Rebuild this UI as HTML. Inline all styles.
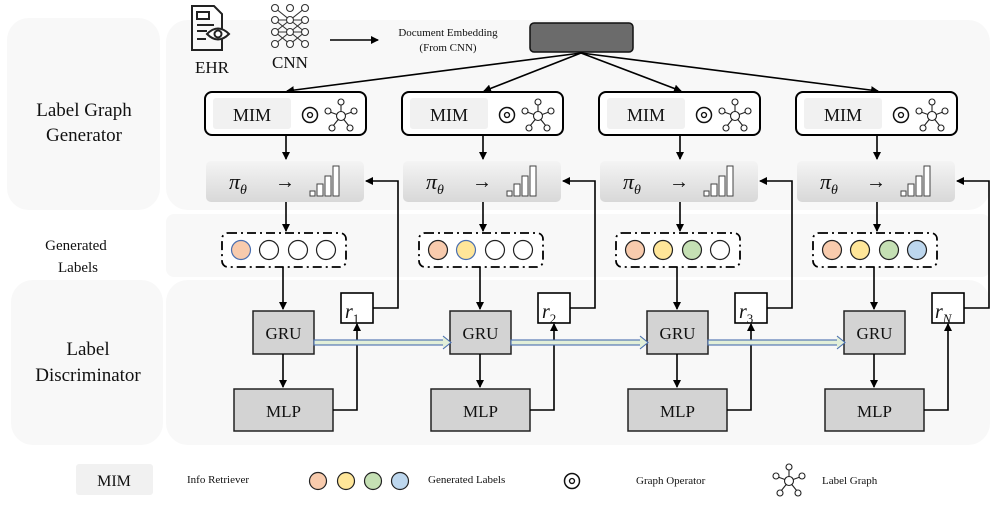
<!DOCTYPE html>
<html><head><meta charset="utf-8"><style>
html,body{margin:0;padding:0;background:#fff;}
svg{display:block;}
text{font-family:"Liberation Serif",serif;fill:#111;}
</style></head><body>
<svg width="997" height="506" viewBox="0 0 997 506" xmlns="http://www.w3.org/2000/svg">
<defs>
<marker id="ah" markerWidth="8" markerHeight="8" refX="7" refY="4" orient="auto" markerUnits="userSpaceOnUse">
<path d="M0,0 L8,4 L0,8 z" fill="#000"/></marker>
<linearGradient id="pg" x1="0" y1="0" x2="0" y2="1">
<stop offset="0" stop-color="#f4f4f4"/><stop offset="1" stop-color="#d8d8d8"/></linearGradient>
<g id="graph" fill="#fff" stroke="#222" stroke-width="1.1">
<line x1="0" y1="0" x2="0" y2="-12"/><line x1="0" y1="0" x2="-11" y2="-4"/><line x1="0" y1="0" x2="11" y2="-4"/>
<line x1="0" y1="0" x2="-8" y2="10"/><line x1="0" y1="0" x2="8" y2="10"/>
<circle r="4.5"/><circle cy="-14" r="3"/><circle cx="-13" cy="-5" r="3"/><circle cx="13" cy="-5" r="3"/>
<circle cx="-9" cy="12" r="3"/><circle cx="9" cy="12" r="3"/></g>
<g id="op" fill="#fff" stroke="#111" stroke-width="1.5"><circle r="7.5"/><circle r="2.5" stroke-width="1.3"/></g>
<g id="col">
<rect x="205" y="92" width="161" height="43" rx="7" fill="#fff" stroke="#000" stroke-width="2"/>
<rect x="213" y="98" width="78" height="31" rx="3" fill="#f1f1f1"/>
<text x="252" y="121" font-size="18" text-anchor="middle">MIM</text>
<use href="#op" x="310" y="115"/>
<use href="#graph" x="341" y="116"/>
<line x1="286" y1="135" x2="286" y2="159" stroke="#000" stroke-width="1.6" marker-end="url(#ah)"/>
<rect x="206" y="161" width="158" height="41" rx="5" fill="url(#pg)"/>
<text x="229" y="189" font-size="22" font-style="italic">π<tspan font-size="14" dy="5">θ</tspan></text>
<text x="275" y="188" font-size="20">→</text>
<g fill="#fff" stroke="#444" stroke-width="1"><rect x="310" y="191" width="5" height="5"/><rect x="317" y="184" width="6" height="12"/><rect x="325" y="176" width="6" height="20"/><rect x="333" y="166" width="6" height="30"/></g>
<line x1="286" y1="202" x2="286" y2="231" stroke="#000" stroke-width="1.6" marker-end="url(#ah)"/>
<rect x="222" y="233" width="124" height="34" rx="6" fill="#fff" stroke="#000" stroke-width="1.8" stroke-dasharray="9,4,2,4"/>
<line x1="283" y1="267" x2="283" y2="309" stroke="#000" stroke-width="1.6" marker-end="url(#ah)"/>
<rect x="253" y="311" width="61" height="43" fill="#d3d3d3" stroke="#222" stroke-width="1.5"/>
<text x="283.5" y="339" font-size="17" text-anchor="middle">GRU</text>
<line x1="283" y1="354" x2="283" y2="387" stroke="#000" stroke-width="1.6" marker-end="url(#ah)"/>
<rect x="234" y="389" width="99" height="42" fill="#d3d3d3" stroke="#222" stroke-width="1.5"/>
<text x="283.5" y="417" font-size="17" text-anchor="middle">MLP</text>
<polyline points="333,410 357,410 357,324" fill="none" stroke="#000" stroke-width="1.6" marker-end="url(#ah)"/>
<rect x="341" y="293" width="32" height="30" fill="#fff" stroke="#000" stroke-width="1.6"/>
<polyline points="373,308 398,308 398,181 366,181" fill="none" stroke="#000" stroke-width="1.6" marker-end="url(#ah)"/>
</g>
</defs>

<rect x="7" y="18" width="153" height="192" rx="22" fill="#f8f8f8"/>
<rect x="11" y="280" width="152" height="165" rx="22" fill="#f8f8f8"/>
<rect x="166" y="20" width="824" height="190" rx="22" fill="#f8f8f8"/>
<rect x="166" y="214" width="824" height="63" rx="8" fill="#f8f8f8"/>
<rect x="166" y="280" width="824" height="165" rx="22" fill="#f8f8f8"/>

<text x="84" y="116" font-size="19" text-anchor="middle">Label Graph</text>
<text x="84" y="141" font-size="19" text-anchor="middle">Generator</text>
<text x="76" y="250" font-size="15" text-anchor="middle">Generated</text>
<text x="78" y="272" font-size="15" text-anchor="middle">Labels</text>
<text x="88" y="355" font-size="19" text-anchor="middle">Label</text>
<text x="88" y="381" font-size="19" text-anchor="middle">Discriminator</text>

<g fill="none" stroke="#222" stroke-width="2">
<path d="M192,6 h22 l8,8 v36 h-30 z"/><rect x="197" y="12" width="12" height="7"/>
<line x1="197" y1="25" x2="214" y2="25"/><line x1="197" y1="31" x2="207" y2="31"/><line x1="197" y1="39" x2="206" y2="39"/>
<path d="M207,34 q11,-11 22,0 q-11,11 -22,0z" fill="#fff"/><circle cx="218" cy="34" r="3.5"/>
</g>
<text x="212" y="73" font-size="17" text-anchor="middle">EHR</text>
<g fill="#fff" stroke="#333" stroke-width="1.1">
<path d="M275,8 L305,32 M275,32 L305,8 M275,20 L305,44 M275,44 L305,20 M275,8 L290,20 L305,8 M275,32 L290,44 L305,32 M275,20 h30 M275,32 h30" fill="none"/>
<circle cx="275" cy="8" r="3.5"/><circle cx="290" cy="8" r="3.5"/><circle cx="305" cy="8" r="3.5"/>
<circle cx="275" cy="20" r="3.5"/><circle cx="290" cy="20" r="3.5"/><circle cx="305" cy="20" r="3.5"/>
<circle cx="275" cy="32" r="3.5"/><circle cx="290" cy="32" r="3.5"/><circle cx="305" cy="32" r="3.5"/>
<circle cx="275" cy="44" r="3.5"/><circle cx="290" cy="44" r="3.5"/><circle cx="305" cy="44" r="3.5"/>
</g>
<text x="290" y="68" font-size="17" text-anchor="middle">CNN</text>
<line x1="330" y1="40" x2="378" y2="40" stroke="#000" stroke-width="1.6" marker-end="url(#ah)"/>
<text x="448" y="36" font-size="11" text-anchor="middle">Document Embedding</text>
<text x="448" y="51" font-size="11" text-anchor="middle">(From CNN)</text>
<rect x="530" y="23" width="103" height="29" rx="4" fill="#6b6b6b" stroke="#111" stroke-width="1.5"/>
<g stroke="#000" stroke-width="1.6" marker-end="url(#ah)">
<line x1="581" y1="53" x2="287" y2="91"/><line x1="581" y1="53" x2="484" y2="91"/>
<line x1="581" y1="53" x2="681" y2="91"/><line x1="581" y1="53" x2="878" y2="91"/>
</g>

<use href="#col"/>
<use href="#col" x="197"/>
<use href="#col" x="394"/>
<use href="#col" x="591"/>

<g font-size="20" font-style="italic">
<text x="345" y="318">r<tspan font-size="13" dy="5" font-style="normal">1</tspan></text>
<text x="542" y="318">r<tspan font-size="13" dy="5" font-style="normal">2</tspan></text>
<text x="739" y="318">r<tspan font-size="13" dy="5" font-style="normal">3</tspan></text>
<text x="935" y="318">r<tspan font-size="13" dy="5">N</tspan></text>
</g>

<g stroke="#222" stroke-width="1.2">
<circle cx="241" cy="250" r="9.5" fill="#f8cbad" stroke="#4a6fb0"/><circle cx="269" cy="250" r="9.5" fill="#fff"/><circle cx="298" cy="250" r="9.5" fill="#fff"/><circle cx="326" cy="250" r="9.5" fill="#fff"/>
<circle cx="438" cy="250" r="9.5" fill="#f8cbad"/><circle cx="466" cy="250" r="9.5" fill="#ffe699" stroke="#4a6fb0"/><circle cx="495" cy="250" r="9.5" fill="#fff"/><circle cx="523" cy="250" r="9.5" fill="#fff"/>
<circle cx="635" cy="250" r="9.5" fill="#f8cbad"/><circle cx="663" cy="250" r="9.5" fill="#ffe699"/><circle cx="692" cy="250" r="9.5" fill="#c5e0b4"/><circle cx="720" cy="250" r="9.5" fill="#fff"/>
<circle cx="832" cy="250" r="9.5" fill="#f8cbad"/><circle cx="860" cy="250" r="9.5" fill="#ffe699"/><circle cx="889" cy="250" r="9.5" fill="#c5e0b4"/><circle cx="917" cy="250" r="9.5" fill="#bdd7ee"/>
</g>

<g>
<rect x="314" y="340" width="130" height="5" fill="#e2efd9" stroke="#4a6fb0" stroke-width="1.1"/>
<path d="M443,336 L451,342.5 L443,349" fill="#e2efd9" stroke="#4a6fb0" stroke-width="1.1"/>
<rect x="511" y="340" width="130" height="5" fill="#e2efd9" stroke="#4a6fb0" stroke-width="1.1"/>
<path d="M640,336 L648,342.5 L640,349" fill="#e2efd9" stroke="#4a6fb0" stroke-width="1.1"/>
<rect x="708" y="340" width="130" height="5" fill="#e2efd9" stroke="#4a6fb0" stroke-width="1.1"/>
<path d="M837,336 L845,342.5 L837,349" fill="#e2efd9" stroke="#4a6fb0" stroke-width="1.1"/>
</g>

<rect x="76" y="464" width="77" height="31" rx="3" fill="#f1f1f1"/>
<text x="114" y="486" font-size="16" text-anchor="middle">MIM</text>
<text x="187" y="483" font-size="11">Info Retriever</text>
<g stroke="#222" stroke-width="1.2">
<circle cx="318" cy="481" r="8.5" fill="#f8cbad"/><circle cx="346" cy="481" r="8.5" fill="#ffe699"/>
<circle cx="373" cy="481" r="8.5" fill="#c5e0b4"/><circle cx="400" cy="481" r="8.5" fill="#bdd7ee"/>
</g>
<text x="428" y="483" font-size="11">Generated Labels</text>
<use href="#op" x="572" y="481"/>
<text x="636" y="484" font-size="11">Graph Operator</text>
<use href="#graph" x="789" y="481"/>
<text x="822" y="484" font-size="11">Label Graph</text>
</svg>
</body></html>
